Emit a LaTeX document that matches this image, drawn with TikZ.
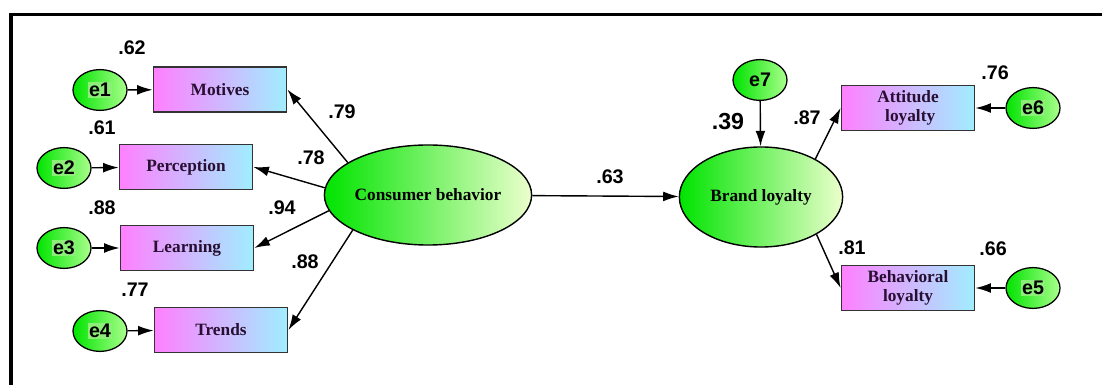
\documentclass[tikz,border=0pt]{standalone}
\usepackage{fontspec}
\setmainfont{Liberation Serif}
\setsansfont{Liberation Sans}
\usetikzlibrary{shapes.geometric,arrows.meta}
\definecolor{boxpink}{RGB}{255,128,255}
\definecolor{boxcyan}{RGB}{160,238,255}
\definecolor{latgreen}{RGB}{0,228,0}
\definecolor{latpale}{RGB}{236,255,205}
\definecolor{errpale}{RGB}{170,255,140}
\definecolor{errhi}{RGB}{140,240,120}
\definecolor{boxtext}{RGB}{40,15,50}
\newcommand{\ehl}[1]{{\setlength{\fboxsep}{1pt}\colorbox{errhi}{#1}}}

\begin{document}
\begin{tikzpicture}[x=0.025cm, y=-0.025cm]
    \tikzstyle{observed}=[rectangle, draw=black!80, line width=1.1pt, minimum width=3.33cm, minimum height=1.13cm, left color=boxpink, middle color=boxpink!55!boxcyan, right color=boxcyan, text=boxtext, align=center, inner sep=1pt, font=\fontsize{12.3}{13}\selectfont\bfseries]
    \tikzstyle{latent}=[ellipse, draw, line width=1pt, minimum width=4.08cm, minimum height=2.5cm, left color=latgreen, middle color=latgreen!70!latpale, right color=latpale, inner sep=0pt, font=\fontsize{12.3}{13}\selectfont\bfseries]
    \tikzstyle{errnode}=[ellipse, draw, line width=0.9pt, minimum width=1.35cm, minimum height=1.02cm, left color=latgreen, right color=errpale, inner sep=0pt, font=\sffamily\bfseries\fontsize{14}{15}\selectfont]
    \tikzstyle{coef}=[font=\sffamily\bfseries\fontsize{14}{16}\selectfont, inner sep=0pt]
    \tikzstyle{arr}=[-{Latex[length=11pt, width=7pt]}, line width=1pt]

    \useasboundingbox (0,0) rectangle (1102,385);
    \draw[line width=2.2pt, line join=miter] (11,385) -- (11,14.5) -- (1102,14.5);

    \node[errnode] (e1) at (100,90) {\ehl{e1}};
    \node[observed] (mot) at (220,89.5) {Motives};
    \node[errnode] (e2) at (64,168) {\ehl{e2}};
    \node[observed] (per) at (186,167) {Perception};
    \node[errnode] (e3) at (64,248) {\ehl{e3}};
    \node[observed] (lea) at (187,248) {Learning};
    \node[errnode] (e4) at (100,331) {\ehl{e4}};
    \node[observed] (tre) at (221,330) {Trends};

    \node[latent] (cb) at (428,195) {Consumer behavior};
    \node[latent] (bl) at (761,197) {Brand loyalty};
    \node[errnode] (e7) at (760,80) {e7};

    \node[observed] (att) at (908,108) {Attitude\\\ loyalty};
    \node[observed] (beh) at (908,288) {Behavioral\\ loyalty};
    \node[errnode] (e6) at (1033,108) {\ehl{e6}};
    \node[errnode] (e5) at (1033,288) {\ehl{e5}};

    \draw[arr] (e1)--(mot);
    \draw[arr] (e2)--(per);
    \draw[arr] (e3)--(lea);
    \draw[arr] (e4)--(tre);
    \draw[arr] (cb.158)--(mot.east);
    \draw[arr] (cb.176)--(per.east);
    \draw[arr] (cb.189)--(lea.east);
    \draw[arr] (cb.205)--(tre.east);
    \draw[arr] (cb)--(bl);
    \draw[arr] (e7)--(bl);
    \draw[arr] (bl.35)--(att.west);
    \draw[arr] (bl.-34)--(beh.west);
    \draw[arr] (e6)--(att);
    \draw[arr] (e5)--(beh);

    \node[coef] (r1) at (132,48) {.62};
    \node[coef] (r2) at (102,128) {.61};
    \node[coef] (r3) at (102,208) {.88};
    \node[coef] (r4) at (135,290) {.77};
    \node[coef] (l1) at (342,112) {.79};
    \node[coef] (l2) at (311,158) {.78};
    \node[coef] (l3) at (282,208) {.94};
    \node[coef] (l4) at (305,262) {.88};
    \node[coef] (g1) at (610,177) {.63};
    \node[coef, font=\sffamily\bfseries\fontsize{16.5}{18}\selectfont] (r7) at (728,122) {.39};
    \node[coef] (l5) at (807,118) {.87};
    \node[coef] (r6) at (995,73) {.76};
    \node[coef] (l6) at (852,248) {.81};
    \node[coef] (r5) at (993,249) {.66};
\end{tikzpicture}
\end{document}
